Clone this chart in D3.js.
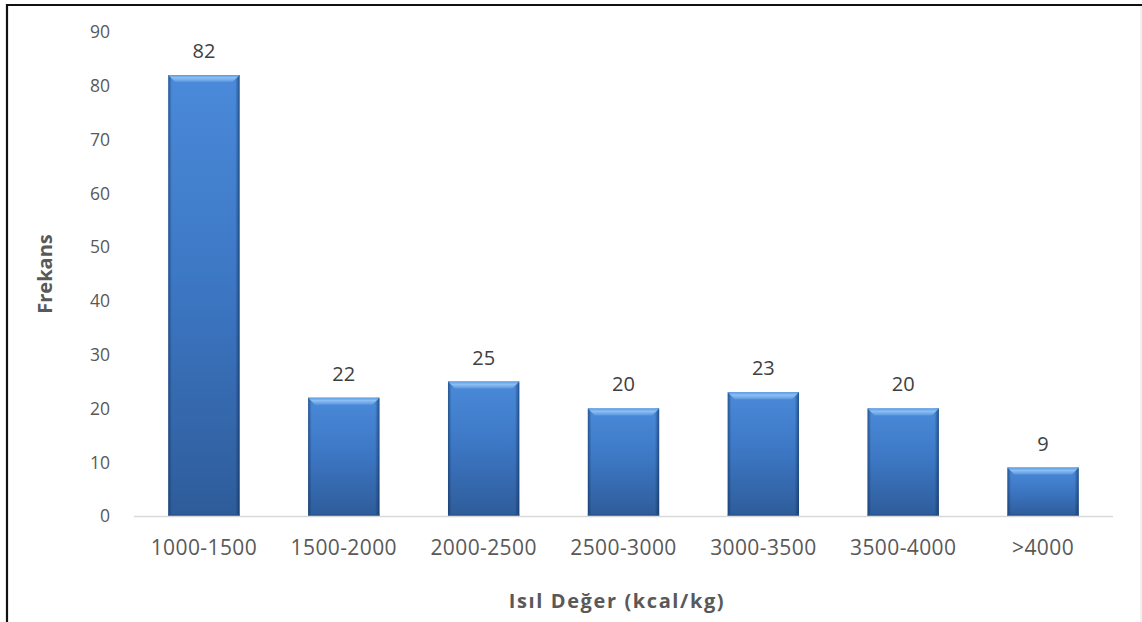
<!DOCTYPE html>
<html>
<head>
<meta charset="utf-8">
<script src="https://cdn.jsdelivr.net/npm/d3@7"></script>
<style>
  html, body { margin: 0; padding: 0; background: #fff; }
  svg { display: block; }
</style>
</head>
<body>
<svg id="chart" width="1142" height="622"></svg>
<script>
// Frequency of calorific value classes
const categories = ["1000-1500", "1500-2000", "2000-2500", "2500-3000", "3000-3500", "3500-4000", ">4000"];
const frequencies = [82, 22, 25, 20, 23, 20, 9];
const yTicks = [0, 10, 20, 30, 40, 50, 60, 70, 80, 90];
const xTitle = "Isıl Değer (kcal/kg)";
const yTitle = "Frekans";

const svg = d3.select("#chart");
const W = 1142, H = 622;
const plot = { left: 134, right: 1113, top: 32, bottom: 516 };
const font = "'Open Sans', 'DejaVu Sans', sans-serif";

// frame
svg.append("rect").attr("x", 0).attr("y", 0).attr("width", W).attr("height", H).attr("fill", "#fff");
svg.append("path")
  .attr("d", `M7,${H + 2} L7,5 L${W + 2},5`)
  .attr("fill", "none").attr("stroke", "#111").attr("stroke-width", 2.2);
svg.append("line").attr("x1", W - 1).attr("x2", W - 1).attr("y1", 6).attr("y2", H)
  .attr("stroke", "#e4e4e4").attr("stroke-width", 1);

const x = d3.scaleBand().domain(categories).range([plot.left, plot.right]).paddingInner(0.49).paddingOuter(0.245);
const y = d3.scaleLinear().domain([0, 90]).range([plot.bottom, plot.top]);

// gradients
const defs = svg.append("defs");
const vg = defs.append("linearGradient").attr("id", "barV").attr("x1", 0).attr("y1", 0).attr("x2", 0).attr("y2", 1);
vg.append("stop").attr("offset", "0%").attr("stop-color", "#4a8ad9");
vg.append("stop").attr("offset", "45%").attr("stop-color", "#3d78c5");
vg.append("stop").attr("offset", "100%").attr("stop-color", "#2e5c9a");
const hg = defs.append("linearGradient").attr("id", "barH").attr("x1", 0).attr("y1", 0).attr("x2", 1).attr("y2", 0);
hg.append("stop").attr("offset", "0%").attr("stop-color", "#0a2a55").attr("stop-opacity", 0.55);
hg.append("stop").attr("offset", "5%").attr("stop-color", "#0a2a55").attr("stop-opacity", 0.0);
hg.append("stop").attr("offset", "94%").attr("stop-color", "#0a2a55").attr("stop-opacity", 0.0);
hg.append("stop").attr("offset", "100%").attr("stop-color", "#0a2a55").attr("stop-opacity", 0.6);
const tg = defs.append("linearGradient").attr("id", "bevel").attr("x1", 0).attr("y1", 0).attr("x2", 0).attr("y2", 1);
tg.append("stop").attr("offset", "0%").attr("stop-color", "#5c98e0");
tg.append("stop").attr("offset", "40%").attr("stop-color", "#8cc0f4");
tg.append("stop").attr("offset", "100%").attr("stop-color", "#5a96e0");

// y tick labels
svg.append("g").selectAll("text").data(yTicks).join("text")
  .attr("x", 110).attr("y", d => y(d)).attr("dy", "0.36em")
  .attr("text-anchor", "end")
  .attr("font-family", font).attr("font-size", 17.5).attr("fill", "#595959")
  .text(d => d);

// bars
const bars = svg.append("g").selectAll("g").data(categories.map((c, i) => ({ c, v: frequencies[i] }))).join("g");
bars.append("rect")
  .attr("x", d => x(d.c)).attr("y", d => y(d.v))
  .attr("width", x.bandwidth()).attr("height", d => y(0) - y(d.v))
  .attr("fill", "url(#barV)");
bars.append("rect")
  .attr("x", d => x(d.c)).attr("y", d => y(d.v))
  .attr("width", x.bandwidth()).attr("height", d => y(0) - y(d.v))
  .attr("fill", "url(#barH)");
const bev = 7;
bars.append("path")
  .attr("d", d => {
    const x0 = x(d.c), x1 = x0 + x.bandwidth(), t = y(d.v);
    return `M${x0},${t} L${x1},${t} L${x1 - bev},${t + bev} L${x0 + bev},${t + bev} Z`;
  })
  .attr("fill", "url(#bevel)");
bars.append("line")
  .attr("x1", d => x(d.c)).attr("x2", d => x(d.c) + x.bandwidth())
  .attr("y1", d => y(0) - 1).attr("y2", d => y(0) - 1)
  .attr("stroke", "#27528a").attr("stroke-width", 2).attr("opacity", 0.6);

// value labels
bars.append("text")
  .attr("x", d => x(d.c) + x.bandwidth() / 2).attr("y", d => y(d.v) - 17)
  .attr("text-anchor", "middle")
  .attr("font-family", font).attr("font-size", 20).attr("fill", "#404040")
  .text(d => d.v);

// x axis line
svg.append("line").attr("x1", plot.left).attr("x2", plot.right)
  .attr("y1", plot.bottom + 0.5).attr("y2", plot.bottom + 0.5)
  .attr("stroke", "#d9d9d9").attr("stroke-width", 1.5);

// x tick labels
svg.append("g").selectAll("text").data(categories).join("text")
  .attr("x", d => x(d) + x.bandwidth() / 2).attr("y", 555)
  .attr("text-anchor", "middle")
  .attr("font-family", font).attr("font-size", 21).attr("letter-spacing", 0.4).attr("fill", "#595959")
  .text(d => d);

// axis titles
svg.append("text").attr("x", 617).attr("y", 608).attr("text-anchor", "middle")
  .attr("font-family", font).attr("font-size", 20).attr("font-weight", "bold")
  .attr("letter-spacing", 1.6).attr("fill", "#595959")
  .text(xTitle);
svg.append("text").attr("transform", "translate(52,274) rotate(-90)").attr("text-anchor", "middle")
  .attr("font-family", font).attr("font-size", 20).attr("font-weight", "bold").attr("fill", "#595959")
  .text(yTitle);
</script>
</body>
</html>
